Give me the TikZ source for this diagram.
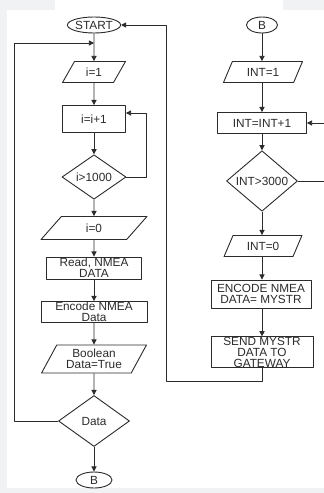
\documentclass[tikz,border=0pt]{standalone}
\usepackage{fontspec}
\setmainfont{Liberation Sans}
\usetikzlibrary{shapes.geometric,arrows.meta}
\definecolor{bgray}{HTML}{F1F2F4}
\definecolor{ink}{HTML}{2B2B2B}
\begin{document}
\begin{tikzpicture}[x=0.5pt,y=-0.5pt,font=\fontsize{5.9}{5.5}\selectfont,line join=round,
  >={Triangle[length=2.6pt,width=2.6pt]},
  every node/.style={draw=ink,text=ink,line width=0.45pt,inner sep=0pt,align=center},
  term/.style={ellipse,minimum width=#1},
  term/.default=26pt,
  proc/.style={rectangle,minimum width=#1},
  io/.style={trapezium,trapezium left angle=60,trapezium right angle=120,
    trapezium stretches=true,minimum width=#1},
  dec/.style={diamond,minimum width=#1},
  flow/.style={draw=ink,line width=0.45pt}]
	\fill[bgray] (0,0) rectangle (324,493);
	\fill[white] (7,10) rectangle (324,488) (55,0) rectangle (283,10);
	\useasboundingbox (0,0) rectangle (324,493);
	% left column
	\node[term,minimum height=8pt] (start) at (94,25) {START};
	\node[io=31.5pt,minimum height=10.5pt] (i1) at (94,72) {i=1};
	\node[proc=31.5pt,minimum height=13.5pt] (inc) at (94,119) {i=i+1};
	\node[dec=32pt,minimum height=22pt] (chk) at (94,177) {i>1000};
	\node[io=53pt,minimum height=11.5pt] (i0) at (94,228) {i=0};
	\node[proc=47.5pt,minimum height=11pt] (read) at (94,268) {Read, NMEA\\DATA};
	\node[proc=53pt,minimum height=10.5pt] (enc) at (94,312) {Encode NMEA\\Data};
	\node[io=52.5pt,minimum height=14pt] (bool) at (94,359) {Boolean\\Data=True};
	\node[dec=35.5pt,minimum height=25.5pt] (data) at (94,421) {Data};
	\node[term=18pt,minimum height=8pt] (bout) at (94,480) {B};
	% right column
	\node[term=15.5pt,minimum height=8pt] (bin) at (262,25) {B};
	\node[io=39.5pt,minimum height=10.5pt] (int1) at (263,72) {INT=1};
	\node[proc=44.5pt,minimum height=10.5pt] (intinc) at (262,123) {INT=INT+1};
	\node[dec=35.5pt,minimum height=25pt] (intchk) at (262,181) {INT>3000};
	\node[io=39pt,minimum height=10.5pt] (int0) at (263,246) {INT=0};
	\node[proc=50pt,minimum height=14pt] (encs) at (261,294) {ENCODE NMEA\\DATA= MYSTR};
	\node[proc=51pt,minimum height=15pt] (send) at (262,352) {SEND MYSTR\\DATA TO\\GATEWAY};
	\coordinate (join) at (94,43);
	\coordinate (lc) at (14,421);
	\coordinate (rc) at (166,381);
	\coordinate (rout) at (324,181);
	\coordinate (rin) at (324,123);
	% connectors
	\draw[flow,->] (start) -- (i1);
	\draw[flow,->] (i1) -- (inc);
	\draw[flow,->] (inc) -- (chk);
	\draw[flow,->] (chk) -- (i0);
	\draw[flow,->] (chk.east) -- ++(20,0) |- ([yshift=3pt]inc.east);
	\draw[flow,->] (i0) -- (read);
	\draw[flow,->] (read) -- (enc);
	\draw[flow,->] (enc) -- (bool);
	\draw[flow,->] (bool) -- (data);
	\draw[flow,->] (data) -- (bout);
	\draw[flow,->] (data.west) -- (lc) |- (join);
	\draw[flow,->] (bin) -- (bin |- int1.north);
	\draw[flow,->] (int1.south -| bin) -- (intinc);
	\draw[flow,->] (intinc) -- (intchk);
	\draw[flow,->] (intchk) -- (intchk |- int0.north);
	\draw[flow,->] (int0.south -| bin) -- (encs.north -| bin);
	\draw[flow] (intchk.east) -- (rout);
	\draw[flow,->] (rin) -- (intinc.east);
	\draw[flow,->] (encs.south -| bin) -- (send);
	\draw[flow,->] (send.south) |- (rc) |- (start.east);
\end{tikzpicture}
\end{document}
